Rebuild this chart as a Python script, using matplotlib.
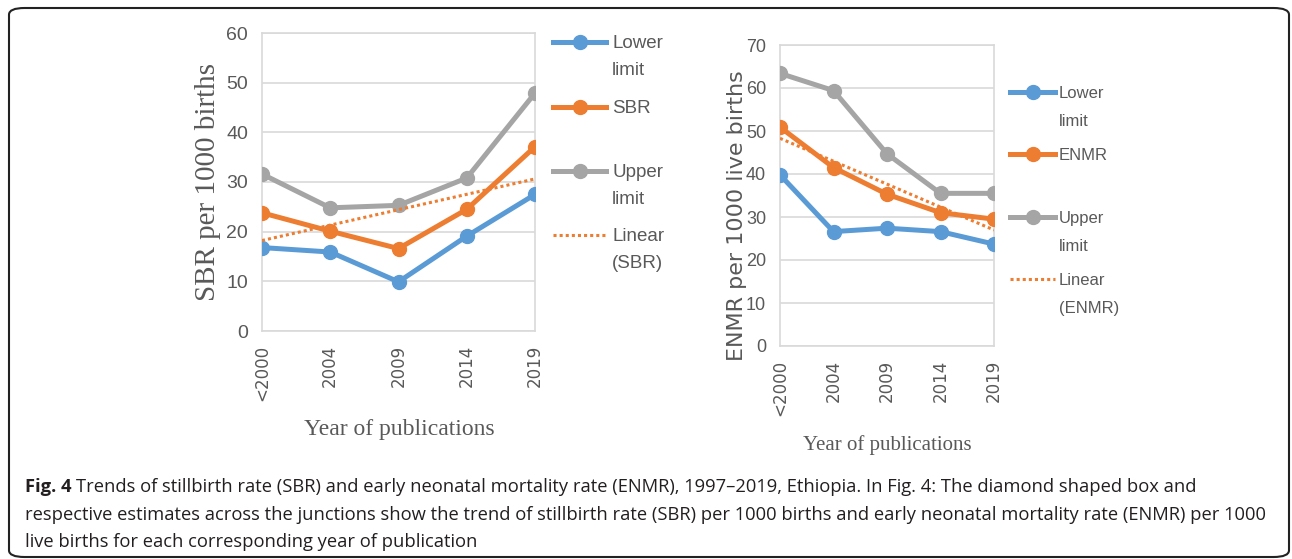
import matplotlib
matplotlib.use("Agg")
import matplotlib.pyplot as plt
import numpy as np
from matplotlib.lines import Line2D
from matplotlib.patches import FancyBboxPatch

W, H = 1292, 559

years = ["<2000", "2004", "2009", "2014", "2019"]

# Stillbirth rate (per 1000 births)
sbr_lower = [16.8, 15.9, 9.9, 19.1, 27.5]
sbr = [23.8, 20.1, 16.6, 24.5, 37.1]
sbr_upper = [31.6, 24.8, 25.3, 30.8, 47.9]

# Early neonatal mortality rate (per 1000 live births)
enmr_lower = [39.8, 26.6, 27.4, 26.6, 23.7]
enmr = [50.9, 41.5, 35.3, 31.0, 29.5]
enmr_upper = [63.4, 59.4, 44.7, 35.5, 35.5]

caption_lines = [
    "Trends of stillbirth rate (SBR) and early neonatal mortality rate (ENMR), 1997\u20132019, Ethiopia. In Fig. 4: The diamond shaped box and",
    "respective estimates across the junctions show the trend of stillbirth rate (SBR) per 1000 births and early neonatal mortality rate (ENMR) per 1000",
    "live births for each corresponding year of publication",
]

BLUE = "#5B9BD5"
ORANGE = "#ED7D31"
GRAY = "#A5A5A5"
TXT = "#595959"
GRID = "#D9D9D9"
SANS = "Liberation Sans"


def px(x, y):
    # pixel (from top-left) -> figure fraction
    return x / W, 1 - y / H


def draw_panel(ax, lower, mid, upper, ymax, tick_fs):
    x = np.arange(len(years))
    for vals, col in [(lower, BLUE), (mid, ORANGE), (upper, GRAY)]:
        ax.plot(x, vals, color=col, lw=3.6, marker="o", ms=10, solid_capstyle="round", zorder=3)
    k, b = np.polyfit(x, mid, 1)
    ax.plot(x, k * x + b, color=ORANGE, lw=2.2, ls=(0, (1, 1)), zorder=4)
    ax.set_xlim(0, len(years) - 1)
    ax.set_ylim(0, ymax)
    ax.set_yticks(np.arange(0, ymax + 1, 10))
    ax.set_xticks(x)
    ax.set_xticklabels(years, rotation=90, family="DejaVu Sans", fontsize=12, color=TXT)
    for t in ax.get_yticklabels():
        t.set_family(SANS)
        t.set_fontsize(tick_fs)
        t.set_color(TXT)
    ax.tick_params(length=0, pad=10)
    ax.grid(axis="y", color=GRID, lw=1.2)
    ax.set_axisbelow(True)
    for s in ax.spines.values():
        s.set_color(GRID)
        s.set_linewidth(1.2)


def draw_legend(fig, x0, x1, xt, rows, fs, step):
    # rows: (first-line y, color, dotted, label)
    for y, col, dotted, label in rows:
        fx0, fy = px(x0, y)
        fx1, _ = px(x1, y)
        if dotted:
            fig.add_artist(Line2D([fx0, fx1], [fy, fy], color=col, lw=2.2, ls=(0, (1, 1)), transform=fig.transFigure))
        else:
            fig.add_artist(Line2D([fx0, fx1], [fy, fy], color=col, lw=3.6, transform=fig.transFigure))
            fig.add_artist(Line2D([(fx0 + fx1) / 2], [fy], color=col, marker="o", ms=10, transform=fig.transFigure))
        for i, part in enumerate(label.split("\n")):
            fig.text(*px(xt, y + 6 + step * i), part, family=SANS, fontsize=fs, color=TXT,
                     va="baseline", ha="left")


def main():
    fig = plt.figure(figsize=(W / 100, H / 100), dpi=100)

    frame = FancyBboxPatch(px(9, 557), (1289 - 9) / W, (557 - 8) / H, boxstyle="round,pad=0,rounding_size=0.012",
                           transform=fig.transFigure, fc="none", ec="#222222", lw=1.5)
    fig.add_artist(frame)

    ax1 = fig.add_axes([262 / W, 1 - 331 / H, (535 - 262) / W, (331 - 33) / H])
    draw_panel(ax1, sbr_lower, sbr, sbr_upper, 60, 14)
    fig.text(*px(208, 182), "SBR per 1000 births", rotation=90, family="Liberation Serif", fontsize=21,
             color=TXT, ha="center", va="center")
    fig.text(*px(399, 430), "Year of publications", family="Liberation Serif", fontsize=17,
             color=TXT, ha="center", va="center")

    ax2 = fig.add_axes([780 / W, 1 - 346 / H, (994 - 780) / W, (346 - 45) / H])
    draw_panel(ax2, enmr_lower, enmr, enmr_upper, 70, 13)
    fig.text(*px(737, 216), "ENMR per 1000 live births", rotation=90, family="DejaVu Sans", fontsize=16,
             color=TXT, ha="center", va="center")
    fig.text(*px(887, 445), "Year of publications", family="Liberation Serif", fontsize=15,
             color=TXT, ha="center", va="center")

    draw_legend(fig, 553, 606, 612, [
        (42, BLUE, False, "Lower\nlimit"),
        (107, ORANGE, False, "SBR"),
        (171, GRAY, False, "Upper\nlimit"),
        (235, ORANGE, True, "Linear\n(SBR)"),
    ], 13.5, 27)
    draw_legend(fig, 1010, 1055, 1059, [
        (92, BLUE, False, "Lower\nlimit"),
        (154, ORANGE, False, "ENMR"),
        (217, GRAY, False, "Upper\nlimit"),
        (279, ORANGE, True, "Linear\n(ENMR)"),
    ], 12, 28)

    # caption
    cap_fs = 13.2
    renderer = fig.canvas.get_renderer()
    bold = fig.text(*px(25, 492), "Fig. 4", family="Open Sans", weight="bold", fontsize=cap_fs,
                    color="#231F20", va="baseline", ha="left")
    bw = bold.get_window_extent(renderer).width
    fig.text(*px(25 + bw + 5, 492), caption_lines[0], family="Open Sans", fontsize=cap_fs,
             color="#231F20", va="baseline", ha="left")
    for i, line in enumerate(caption_lines[1:]):
        fig.text(*px(25, 519.5 + 27.5 * i), line, family="Open Sans", fontsize=cap_fs,
                 color="#231F20", va="baseline", ha="left")

    fig.savefig("out.png", dpi=100)
    plt.close(fig)


if __name__ == "__main__":
    main()
